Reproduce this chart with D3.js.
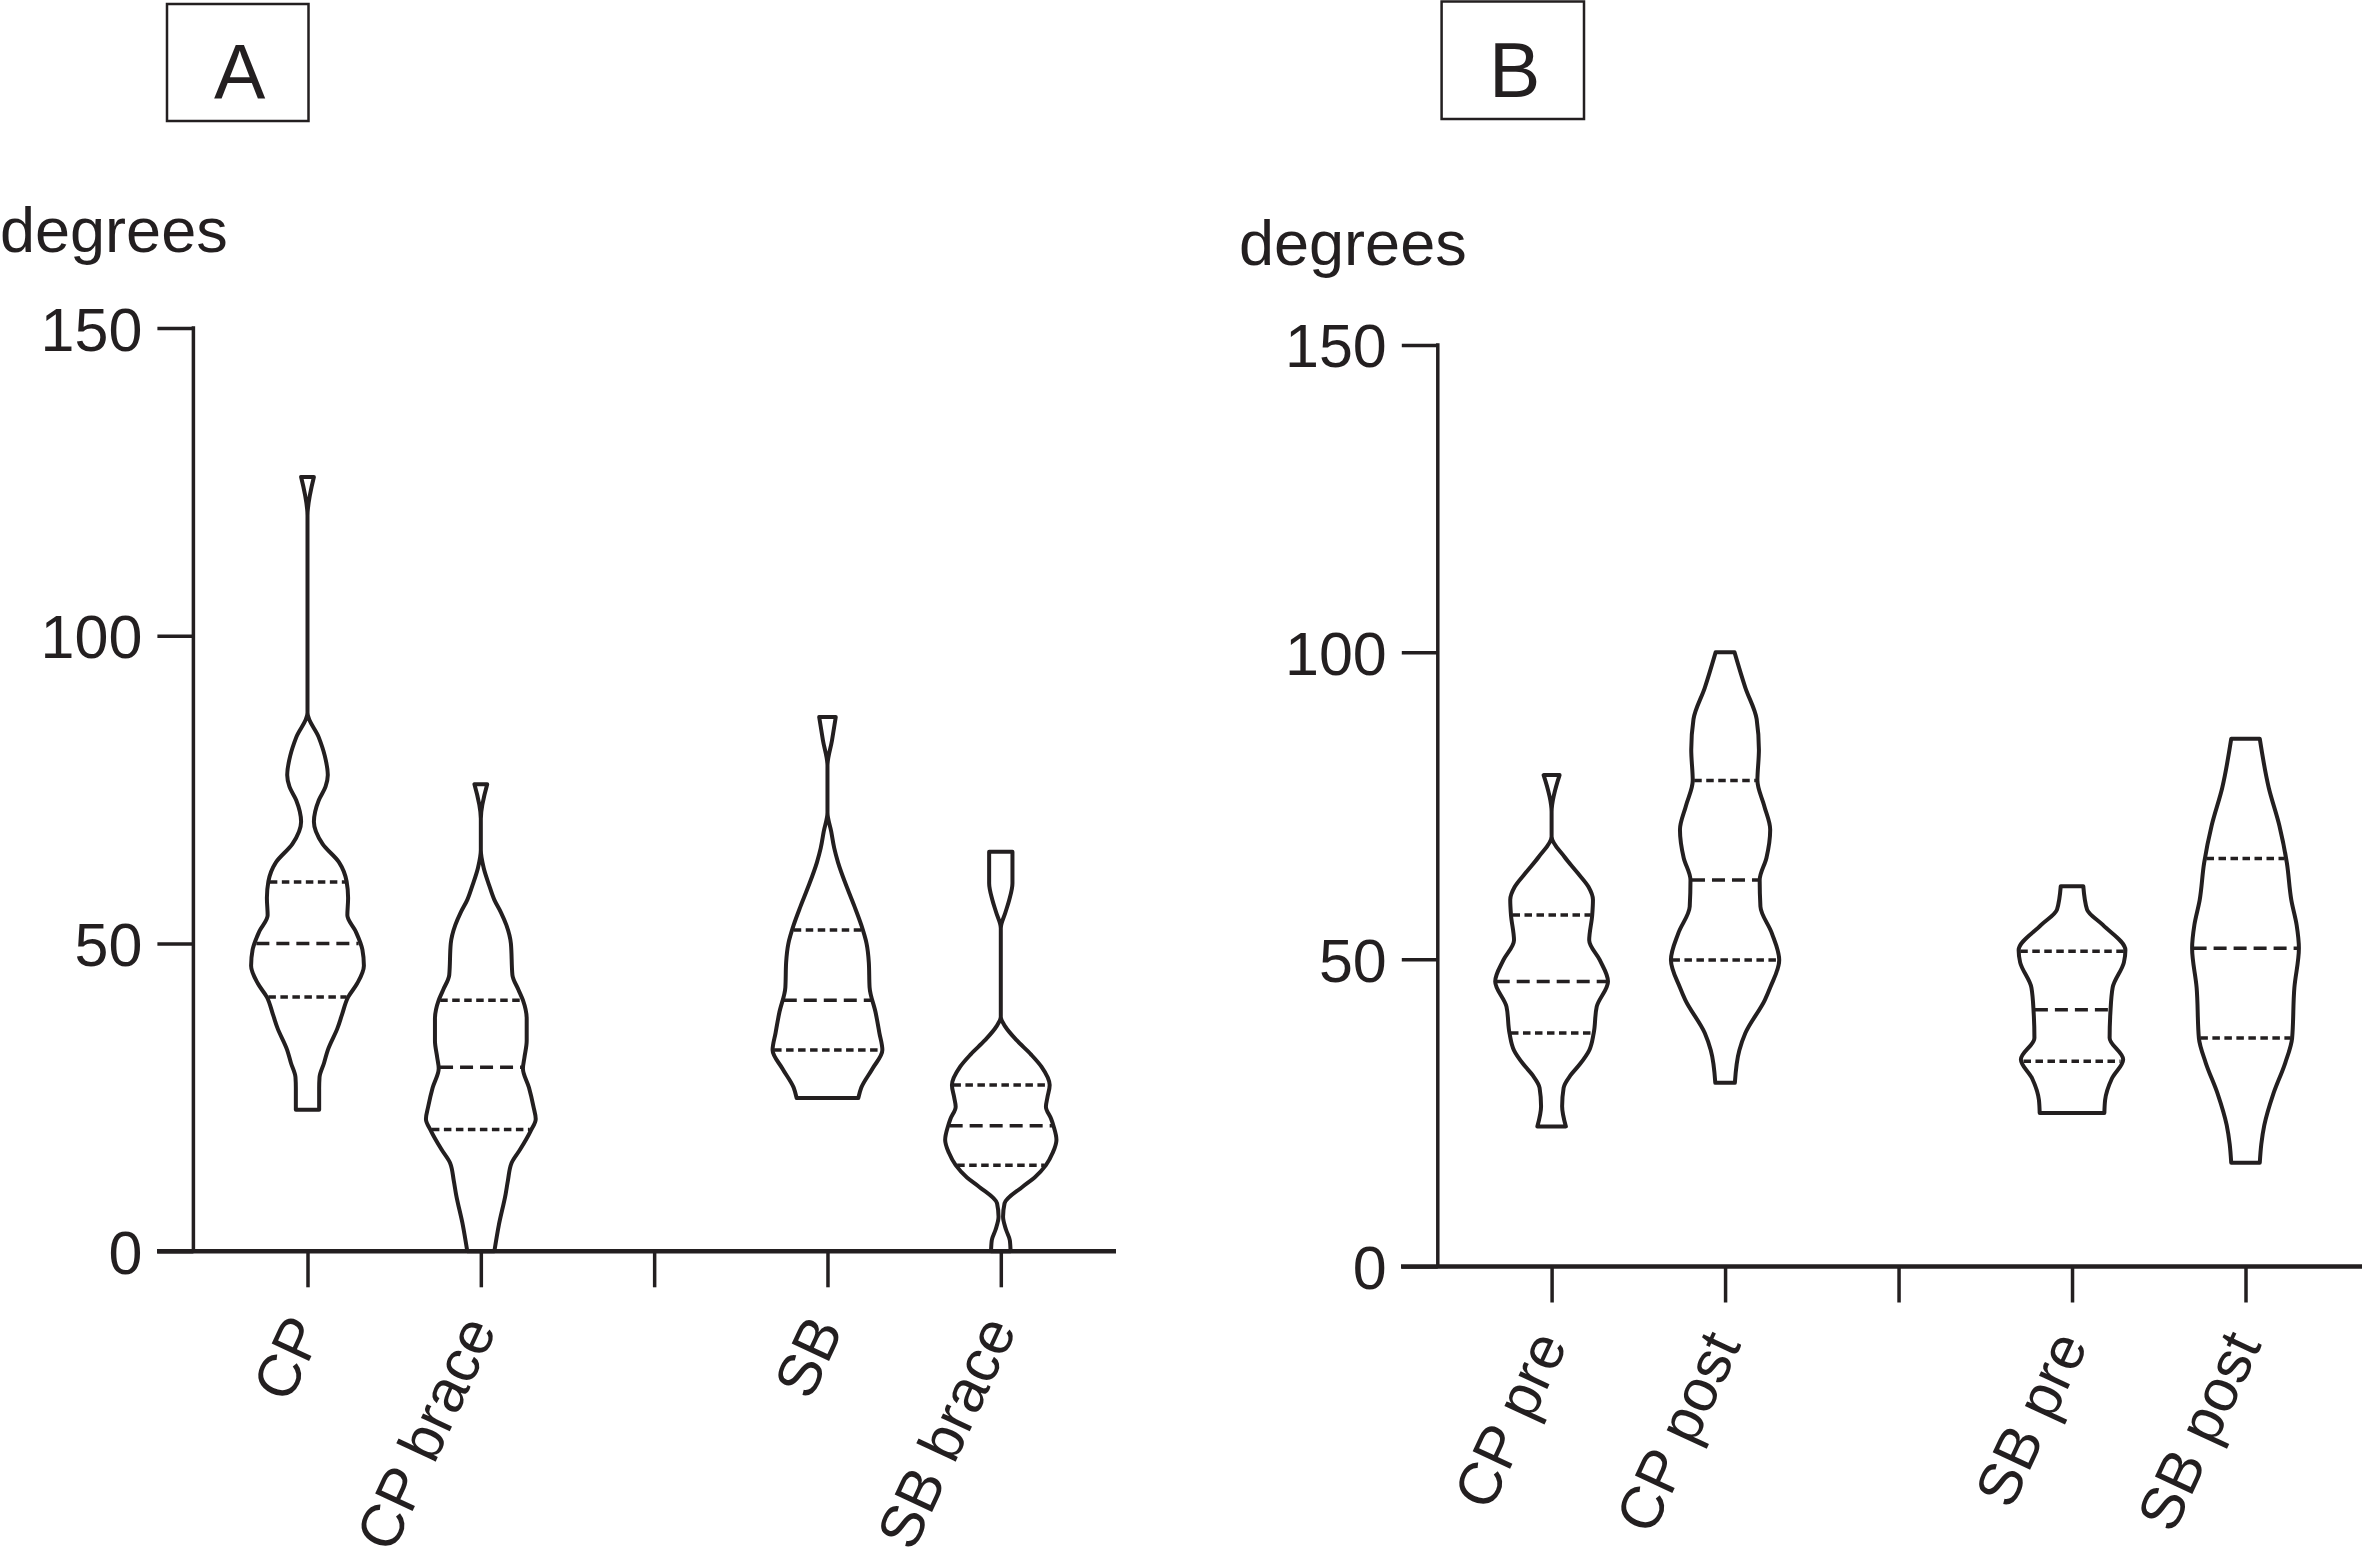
<!DOCTYPE html>
<html>
<head>
<meta charset="utf-8">
<script src="https://cdn.jsdelivr.net/npm/d3@7"></script>
<style>
  html, body { margin: 0; padding: 0; background: #fff; }
  svg { display: block; }
  text { font-family: "Liberation Sans", Arial, Helvetica, sans-serif; fill: #231f20; }
</style>
</head>
<body>
<svg id="chart" width="2362" height="1563"></svg>
<script>
// ---------- DATA ----------
const yTickValues = [0, 50, 100, 150];
const categoriesA = ["CP", "CP brace", "", "SB", "SB brace"];
const categoriesB = ["CP pre", "CP post", "", "SB pre", "SB post"];
const panelTitles = ["A", "B"];
const yLabel = "degrees";

// violin outlines: [value (degrees), relative density]
const violinCP = [[125.8,8.5],[119.5,0],[87.5,0],[83.5,15],[80.5,23],[77.4,27],[75.5,24],[73.3,15],[69.8,8.5],[66.2,20],[63.2,42],[60.1,52],[57.4,54],[54.6,53],[52,64],[49,73],[46.4,75],[43.5,66],[41.3,54],[38.5,46],[36.3,40],[32.7,27],[30.6,22],[28.3,16],[26.5,15.5],[23,15.5]];
const violinCPbrace = [[75.9,8.5],[70.3,0],[65.2,0],[62.2,4],[59.5,11],[57.1,18],[55,27],[53,34],[50,40],[44.9,42],[42.5,50],[40.8,56],[37.8,61],[34.2,61],[31.5,58],[29.7,56],[26.6,64],[23.5,70],[21.5,73],[19.5,66],[16.5,52],[14.4,41],[11.5,36],[9.3,33],[4.3,24],[0,18]];
const violinSB = [[86.8,11],[83,6],[78.9,0],[71.3,0],[68.2,5],[65.5,9],[63.2,14],[59.1,26],[56,36],[53,45],[50,52],[46.9,55],[42.9,56],[38.8,64],[35.5,69],[32.7,73],[29.7,60],[26.6,45],[24.9,41]];
const violinSBbrace = [[64.9,15.5],[59.8,15.5],[57,11],[55,6],[52.5,0],[38.1,0],[36.5,6],[34.3,21],[32,40],[30,54],[27,65],[25,62],[23.5,60],[21.5,67],[20.4,70],[18.1,74],[16,69],[14,60],[12,45],[10.5,29],[7.8,5],[5.6,3],[3.5,7],[1.8,12],[0,13]];
const violinCPpre = [[80,10.6],[74,0],[70,0],[66.7,17],[64,35],[61.8,49],[59.7,55],[57.2,54],[53.1,50],[49.9,64],[46.4,75],[42.3,60],[38,56],[35.2,50],[33,38],[31.1,25],[29.1,16],[26.1,14],[22.8,19]];
const violinCPpost = [[100,12.5],[94.2,27],[89.1,42],[84.1,45],[79.1,43],[75,52],[71.1,60],[66.5,55],[62.9,46],[58.6,47],[54.3,62],[49.9,72],[45.4,60],[43.4,53],[38,27],[35.2,19],[29.9,13]];
const violinSBpre = [[61.9,15],[58.1,20],[55.6,41],[51.5,71],[49.5,69],[45.4,54],[41.3,51],[37.2,50],[33.7,68],[30.6,53],[27.1,44],[25,43]];
const violinSBpost = [[85.9,19],[77.9,31],[71.8,45],[65.7,55],[59.6,61],[55.6,68],[51.8,71],[45.4,65],[37.2,62],[33.2,53],[28.1,37],[23,25],[19.9,21],[16.9,19]];

// quartiles: [Q1, median, Q3]
const quartilesCP = [41.3, 50.0, 60.0];
const quartilesCPbrace = [19.8, 29.9, 40.8];
const quartilesSB = [32.7, 40.8, 52.2];
const quartilesSBbrace = [14.0, 20.4, 27.0];
const quartilesCPpre = [38.0, 46.4, 57.2];
const quartilesCPpost = [49.9, 62.9, 79.1];
const quartilesSBpre = [33.4, 41.8, 51.3];
const quartilesSBpost = [37.2, 51.8, 66.4];

// ---------- DRAW ----------
const ink = "#231f20";
const svg = d3.select("#chart");
const wScale = d3.scaleLinear().domain([0, 100]).range([0, 75.2]);

function halfAt(arr, v) {
  for (let i = 0; i < arr.length - 1; i++) {
    const a = arr[i], b = arr[i + 1];
    if (v <= a[0] && v >= b[0]) {
      const t = (a[0] - v) / (a[0] - b[0]);
      return a[1] + t * (b[1] - a[1]);
    }
  }
  return 0;
}

function drawPanel(o) {
  const g = svg.append("g");
  const y = d3.scaleLinear().domain([0, 150]).range([o.y0, o.y150]);
  const x = d3.scalePoint().domain(o.cats).range([o.xFirst, o.xLast]);

  // title box
  g.append("rect").attr("x", o.box[0]).attr("y", o.box[1]).attr("width", o.box[2]).attr("height", o.box[3])
    .attr("fill", "none").attr("stroke", ink).attr("stroke-width", 2.5);
  g.append("text").attr("x", o.box[0] + o.box[2] / 2 + 2).attr("y", o.titleBase)
    .attr("text-anchor", "middle").attr("font-size", 77).text(o.title);

  // y label
  g.append("text").attr("x", o.labelX).attr("y", o.labelY).attr("font-size", 63).text(yLabel);

  // y axis
  const ya = g.append("g").attr("transform", `translate(${o.yAxisX},0)`)
    .call(d3.axisLeft(y).tickValues(yTickValues).tickSize(o.tick).tickSizeOuter(0).tickPadding(15));
  ya.select(".domain").remove();
  ya.selectAll(".tick line").attr("stroke", ink).attr("stroke-width", 3.5);
  ya.selectAll(".tick text").attr("font-size", 61).attr("fill", ink)
    .attr("font-family", "Liberation Sans, Arial, sans-serif").attr("dy", "0.36em");
  g.append("line").attr("x1", o.yAxisX).attr("x2", o.yAxisX).attr("y1", y(150) - 1.75).attr("y2", y(0))
    .attr("stroke", ink).attr("stroke-width", 3.5);

  // x axis
  const xa = g.append("g").attr("transform", `translate(0,${o.y0})`)
    .call(d3.axisBottom(x).tickSize(o.tick).tickSizeOuter(0));
  xa.select(".domain").remove();
  xa.selectAll(".tick line").attr("stroke", ink).attr("stroke-width", 3.5);
  xa.selectAll(".tick text").attr("font-size", 60).attr("fill", ink)
    .attr("font-family", "Liberation Sans, Arial, sans-serif")
    .attr("x", 0).attr("y", 0).attr("dy", "0.35em")
    .attr("text-anchor", "end")
    .attr("transform", `translate(-3,${o.tick + 33}) rotate(-65)`);
  g.append("line").attr("x1", o.xAxisStart).attr("x2", o.xAxisEnd).attr("y1", o.y0).attr("y2", o.y0)
    .attr("stroke", ink).attr("stroke-width", 4.5);

  // violins
  o.violins.forEach(v => {
    const cx = x(o.cats[v.slot]);
    const area = d3.area()
      .curve(d3.curveMonotoneY)
      .y(d => y(d[0]))
      .x0(d => cx - wScale(d[1]))
      .x1(d => cx + wScale(d[1]));
    g.append("path").datum(v.shape).attr("d", area)
      .attr("fill", "none").attr("stroke", ink).attr("stroke-width", 4).attr("stroke-linejoin", "round");
    v.q.forEach((qv, k) => {
      const hw = Math.max(0, wScale(halfAt(v.shape, qv)) - 1.5);
      g.append("line").attr("x1", cx - hw).attr("x2", cx + hw).attr("y1", y(qv)).attr("y2", y(qv))
        .attr("stroke", ink).attr("stroke-width", 3.5)
        .attr("stroke-dasharray", k === 1 ? "13 7" : "7.5 4.5");
    });
  });
}

drawPanel({
  cats: categoriesA, title: panelTitles[0],
  y0: 1251.3, y150: 328.1, xFirst: 307.5, xLast: 1000.8,
  yAxisX: 193.4, tick: 36, xAxisStart: 157, xAxisEnd: 1116,
  box: [167, 4, 141.5, 117], titleBase: 99, labelX: 0, labelY: 252,
  violins: [
    { slot: 0, shape: violinCP, q: quartilesCP },
    { slot: 1, shape: violinCPbrace, q: quartilesCPbrace },
    { slot: 3, shape: violinSB, q: quartilesSB },
    { slot: 4, shape: violinSBbrace, q: quartilesSBbrace }
  ]
});

drawPanel({
  cats: categoriesB, title: panelTitles[1],
  y0: 1266.5, y150: 345, xFirst: 1551.6, xLast: 2245.5,
  yAxisX: 1437.8, tick: 36, xAxisStart: 1401, xAxisEnd: 2362,
  box: [1441.6, 1.5, 142.4, 117.5], titleBase: 97, labelX: 1239, labelY: 265,
  violins: [
    { slot: 0, shape: violinCPpre, q: quartilesCPpre },
    { slot: 1, shape: violinCPpost, q: quartilesCPpost },
    { slot: 3, shape: violinSBpre, q: quartilesSBpre },
    { slot: 4, shape: violinSBpost, q: quartilesSBpost }
  ]
});
</script>
</body>
</html>
